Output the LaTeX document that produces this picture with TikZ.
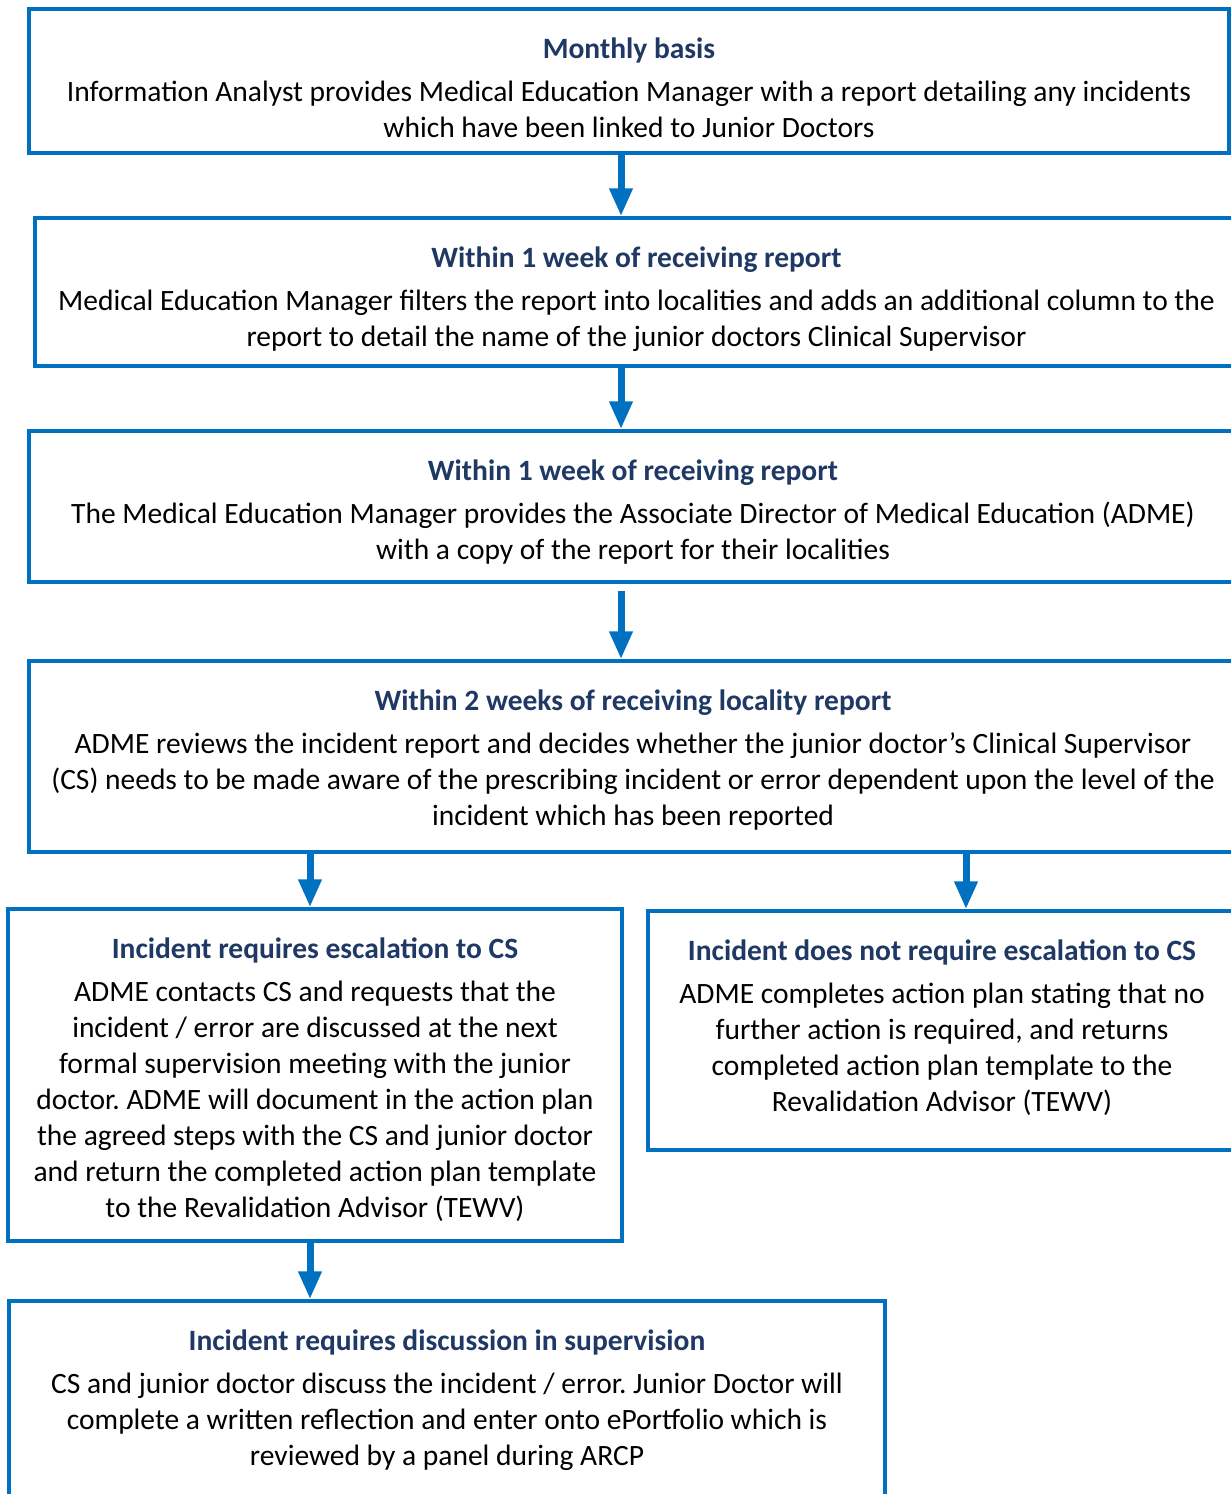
\documentclass[tikz,border=0pt]{standalone}
\usepackage{fontspec}
\setmainfont{Carlito}
\usetikzlibrary{arrows.meta}
\definecolor{boxblue}{HTML}{0070C0}
\definecolor{navy}{HTML}{1F3864}
\newcommand{\hd}[1]{\textcolor{navy}{\bfseries #1}\\[7pt]}
\frenchspacing
\begin{document}
\begin{tikzpicture}[x=1pt,y=1pt,font=\fontsize{29.5}{36}\selectfont,
  box/.style={draw=boxblue,line width=3.5pt,inner sep=0pt},
  txt/.style={anchor=north,align=center,inner sep=0pt},
  arr/.style={boxblue,line width=7pt,-{Triangle[width=22pt,length=28pt]}}]
\useasboundingbox (0,0) rectangle (1231,-1494);
\node[box,minimum width=1200pt,minimum height=144pt] (b1) at (629,-81) {};
\node[box,minimum width=1203pt,minimum height=148pt] (b2) at (636.5,-292) {};
\node[box,minimum width=1208pt,minimum height=151pt] (b3) at (633,-506.5) {};
\node[box,minimum width=1208pt,minimum height=191pt] (b4) at (633,-756.5) {};
\node[box,minimum width=614pt,minimum height=332pt] (b5) at (315,-1075) {};
\node[box,minimum width=588pt,minimum height=239pt] (b6) at (942,-1030.5) {};
\node[box,minimum width=876pt,minimum height=230pt] (b7) at (447,-1416) {};
\node[txt,yshift=-30pt] (t1) at (b1.north) {\hd{Monthly basis}
Information Analyst provides Medical Education Manager with a report detailing any incidents\\
which have been linked to Junior Doctors};
\node[txt,yshift=-30pt] (t2) at (b2.north) {\hd{Within 1 week of receiving report}
Medical Education Manager filters the report into localities and adds an additional column to the\\
report to detail the name of the junior doctors Clinical Supervisor};
\node[txt,yshift=-30pt] (t3) at (b3.north) {\hd{Within 1 week of receiving report}
The Medical Education Manager provides the Associate Director of Medical Education (ADME)\\
with a copy of the report for their localities};
\node[txt,yshift=-30pt] (t4) at (b4.north) {\hd{Within 2 weeks of receiving locality report}
ADME reviews the incident report and decides whether the junior doctor’s Clinical Supervisor\\
(CS) needs to be made aware of the prescribing incident or error dependent upon the level of the\\
incident which has been reported};
\node[txt,yshift=-30pt] (t5) at (b5.north) {\hd{Incident requires escalation to CS}
ADME contacts CS and requests that the\\
incident / error are discussed at the next\\
formal supervision meeting with the junior\\
doctor. ADME will document in the action plan\\
the agreed steps with the CS and junior doctor\\
and return the completed action plan template\\
to the Revalidation Advisor (TEWV)};
\node[txt,yshift=-30pt] (t6) at (b6.north) {\hd{Incident does not require escalation to CS}
ADME completes action plan stating that no\\
further action is required, and returns\\
completed action plan template to the\\
Revalidation Advisor (TEWV)};
\node[txt,yshift=-30pt] (t7) at (b7.north) {\hd{Incident requires discussion in supervision}
CS and junior doctor discuss the incident / error. Junior Doctor will\\
complete a written reflection and enter onto ePortfolio which is\\
reviewed by a panel during ARCP};
\draw[arr] ([xshift=-8pt]b1.south) -- ([xshift=-15.5pt]b2.north);
\draw[arr] ([xshift=-15.5pt]b2.south) -- ([xshift=-12pt]b3.north);
\draw[arr] ([xshift=-12pt,yshift=-7pt]b3.south) -- ([xshift=-12pt]b4.north);
\draw[arr] ([xshift=-5pt]b4.south -| b5.north) -- ([xshift=-5pt]b5.north);
\draw[arr] ([xshift=24pt]b4.south -| b6.north) -- ([xshift=24pt]b6.north);
\draw[arr] ([xshift=-5pt]b5.south) -- ([xshift=-5pt]b5.south |- b7.north);
\end{tikzpicture}
\end{document}
